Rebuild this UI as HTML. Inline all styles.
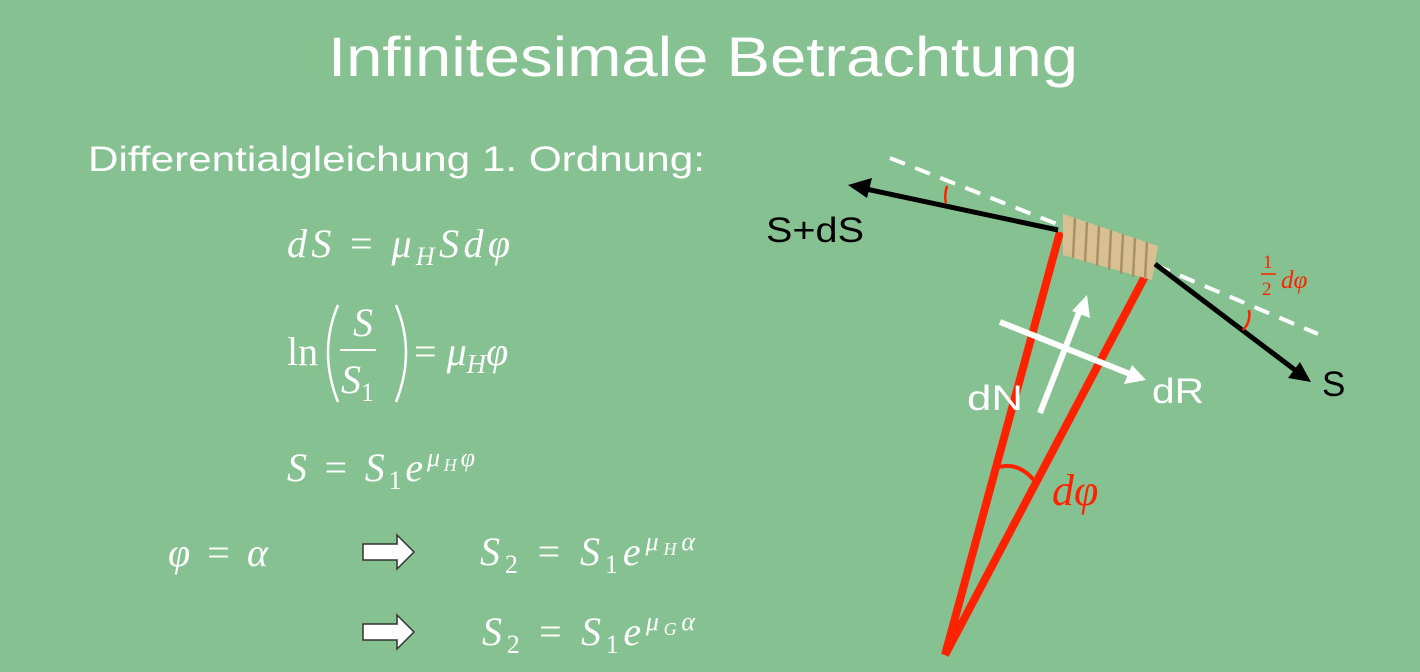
<!DOCTYPE html>
<html><head><meta charset="utf-8"><style>
html,body{margin:0;padding:0;background:#86c291;}
svg{display:block}
.m{font-family:"Liberation Serif",serif;font-style:italic;fill:#fff;font-size:40px}
.u{font-style:normal}
</style></head><body>
<svg width="1420" height="672" viewBox="0 0 1420 672">
<rect width="1420" height="672" fill="#86c291"/>
<text x="328" y="76" textLength="750" lengthAdjust="spacingAndGlyphs" font-family="Liberation Sans,sans-serif" font-size="56" fill="#fff">Infinitesimale Betrachtung</text>
<text x="88" y="171" textLength="617" lengthAdjust="spacingAndGlyphs" font-family="Liberation Sans,sans-serif" font-size="35" fill="#fff">Differentialgleichung 1. Ordnung:</text>

<text class="m" x="287" y="257" textLength="223" lengthAdjust="spacing">dS <tspan class="u">=</tspan> μ<tspan font-size="26" dy="8">H</tspan><tspan dy="-8">Sdφ</tspan></text>

<g>
<text class="m" x="287" y="365"><tspan class="u">ln</tspan></text>
<path d="M338,305 Q318,352 338,402" fill="none" stroke="#fff" stroke-width="2.5"/>
<path d="M396,305 Q416,352 396,402" fill="none" stroke="#fff" stroke-width="2.5"/>
<text class="m" x="353" y="336">S</text>
<line x1="340" y1="350" x2="376" y2="350" stroke="#fff" stroke-width="2"/>
<text class="m" x="341" y="393">S<tspan font-size="26" dy="8" class="u">1</tspan></text>
<text class="m" x="414" y="365" font-size="42"><tspan class="u">=</tspan> μ<tspan font-size="27" dy="8">H</tspan><tspan dy="-8">φ</tspan></text>
</g>

<text class="m" x="287" y="481" textLength="188" lengthAdjust="spacing">S <tspan class="u">=</tspan> S<tspan font-size="26" dy="8" class="u">1</tspan><tspan dy="-8">e</tspan><tspan font-size="26" dy="-15">μ</tspan><tspan font-size="18" dy="5">H</tspan><tspan font-size="26" dy="-5">φ</tspan></text>

<text class="m" x="168" y="566" textLength="100" lengthAdjust="spacing">φ <tspan class="u">=</tspan> α</text>

<g>
<polygon points="363,544 397,544 397,535 414,552 397,569 397,560 363,560" fill="#fff" stroke="#333" stroke-width="1.5"/>
</g>
<g>
<polygon points="363,624 397,624 397,615 414,632 397,649 397,640 363,640" fill="#fff" stroke="#333" stroke-width="1.5"/>
</g>

<text class="m" x="480" y="565" textLength="215" lengthAdjust="spacing">S<tspan font-size="26" dy="8" class="u">2</tspan><tspan dy="-8" class="u"> = </tspan>S<tspan font-size="26" dy="8" class="u">1</tspan><tspan dy="-8">e</tspan><tspan font-size="26" dy="-15">μ</tspan><tspan font-size="18" dy="5">H</tspan><tspan font-size="26" dy="-5">α</tspan></text>
<text class="m" x="482" y="645" textLength="213" lengthAdjust="spacing">S<tspan font-size="26" dy="8" class="u">2</tspan><tspan dy="-8" class="u"> = </tspan>S<tspan font-size="26" dy="8" class="u">1</tspan><tspan dy="-8">e</tspan><tspan font-size="26" dy="-15">μ</tspan><tspan font-size="18" dy="5">G</tspan><tspan font-size="26" dy="-5">α</tspan></text>

<g>
<line x1="890" y1="158" x2="1062" y2="226" stroke="#fff" stroke-width="4" stroke-dasharray="16,11"/>
<line x1="1155" y1="265" x2="1318" y2="334" stroke="#fff" stroke-width="4" stroke-dasharray="16,11"/>
<line x1="945" y1="655" x2="1060" y2="232" stroke="#ff2200" stroke-width="8"/>
<line x1="945" y1="655" x2="1152" y2="263" stroke="#ff2200" stroke-width="8"/>
<g>
<polygon points="1063,214 1158,246 1152,280 1063,255" fill="#d8c092"/>
<g stroke="#a8906a" stroke-width="2.5">
<line x1="1075" y1="218" x2="1073" y2="258"/><line x1="1087" y1="222" x2="1085" y2="262"/>
<line x1="1099" y1="226" x2="1097" y2="266"/><line x1="1111" y1="230" x2="1109" y2="270"/>
<line x1="1123" y1="234" x2="1121" y2="274"/><line x1="1135" y1="238" x2="1133" y2="277"/>
<line x1="1147" y1="242" x2="1145" y2="279"/></g>
</g>
<line x1="1058" y1="230" x2="866" y2="189" stroke="#000" stroke-width="5"/>
<polygon points="848,185 872,178 867,198" fill="#000"/>
<line x1="1155" y1="264" x2="1295" y2="370" stroke="#000" stroke-width="5"/>
<polygon points="1311,382 1288,378 1300,362" fill="#000"/>
<line x1="1040" y1="413" x2="1080" y2="310" stroke="#fff" stroke-width="6"/>
<polygon points="1087,295 1090,318 1072,311" fill="#fff"/>
<line x1="1000" y1="322" x2="1130" y2="374" stroke="#fff" stroke-width="6"/>
<polygon points="1146,380 1124,384 1132,365" fill="#fff"/>
<path d="M1000,467 Q1018,462 1034,480" fill="none" stroke="#ff2200" stroke-width="4"/>
<path d="M947,186 Q944,196 946,203" fill="none" stroke="#ff2200" stroke-width="2.5"/>
<path d="M1249,310 Q1251,322 1243,330" fill="none" stroke="#ff2200" stroke-width="2.5"/>
<text x="766" y="242" textLength="98" lengthAdjust="spacingAndGlyphs" font-family="Liberation Sans,sans-serif" font-size="35" fill="#000">S+dS</text>
<text x="1322" y="396" font-family="Liberation Sans,sans-serif" font-size="35" fill="#000">S</text>
<text x="967" y="410" textLength="56" lengthAdjust="spacingAndGlyphs" font-family="Liberation Sans,sans-serif" font-size="35" fill="#fff">dN</text>
<text x="1152" y="403" textLength="52" lengthAdjust="spacingAndGlyphs" font-family="Liberation Sans,sans-serif" font-size="35" fill="#fff">dR</text>
<text x="1052" y="505" font-family="Liberation Serif,serif" font-style="italic" font-size="44" fill="#ff2200">dφ</text>
<g font-family="Liberation Serif,serif" fill="#ff2200">
<text x="1263" y="268" font-size="19">1</text>
<line x1="1261" y1="274" x2="1276" y2="274" stroke="#ff2200" stroke-width="1.5"/>
<text x="1262" y="295" font-size="19">2</text>
<text x="1281" y="288" font-size="25" font-style="italic">dφ</text>
</g>
</g>
</svg>
</body></html>
